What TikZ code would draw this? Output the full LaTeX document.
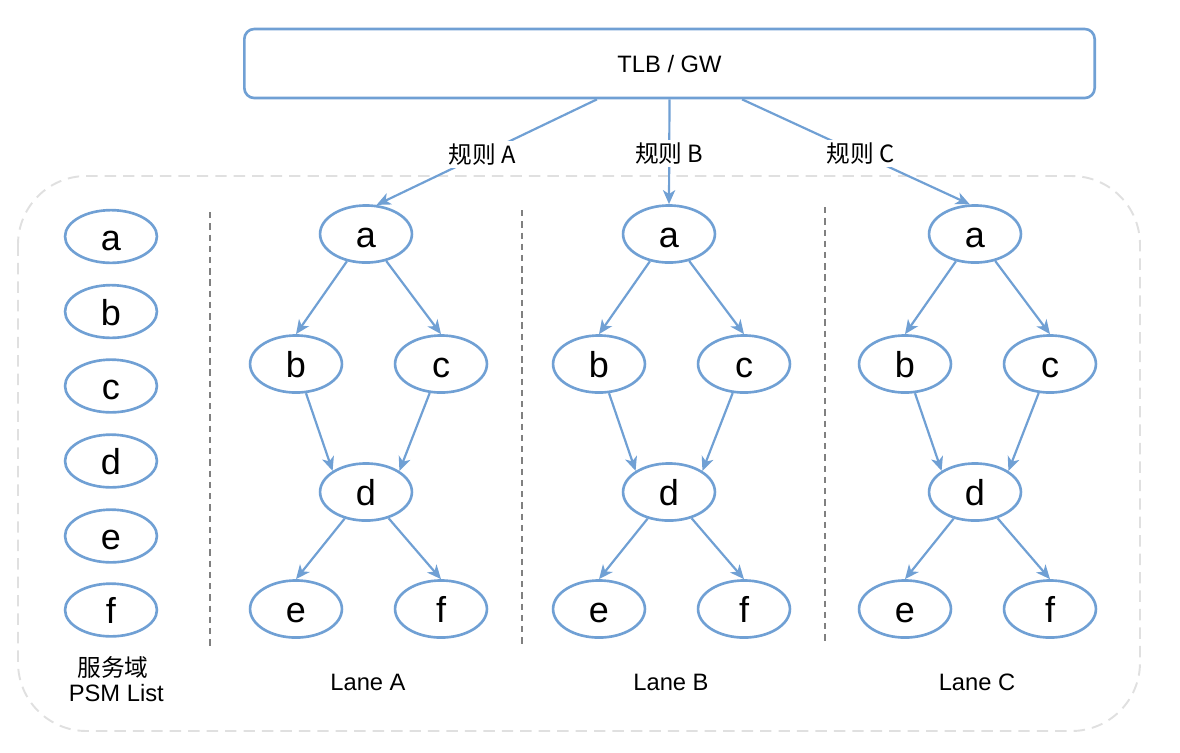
\documentclass[tikz,border=0pt]{standalone}
\usepackage{fontspec}
\setmainfont{Liberation Sans}
\newfontfamily\cjk{Noto Sans CJK SC}
\usetikzlibrary{arrows.meta,shapes.geometric}
\definecolor{eblue}{RGB}{112,160,212}
\definecolor{cgray}{RGB}{224,224,224}
\definecolor{lgray}{RGB}{128,128,128}
\tikzset{
  nodeell/.style={ellipse,draw=eblue,line width=1.5pt,inner sep=0pt,
    minimum width=52.3pt,minimum height=32.5pt,
    text height=15.4pt,text depth=0pt,
    font=\fontsize{20.5}{23}\selectfont},
  listell/.style={nodeell,minimum height=30pt},
  arr/.style={draw=eblue,line width=1.25pt,
    -{Stealth[length=8pt,width=7pt,inset=2.3pt]}},
  lbl/.style={font=\fontsize{13.5}{16}\selectfont},
  rulelbl/.style={lbl,fill=white,inner sep=1.5pt,pos=0.52},
  lanesep/.style={draw=lgray,line width=1.1pt,dash pattern=on 3.6pt off 2.8pt},
}
\begin{document}
\begin{tikzpicture}[x=0.02cm,y=-0.02cm]
\useasboundingbox (0,0) rectangle (1180,752);
% container
\draw[cgray,line width=1.1pt,dash pattern=on 6.5pt off 4pt,rounded corners=39pt]
  (18,176) rectangle (1140,731);
% top box
\node[draw=eblue,line width=1.5pt,rounded corners=5.7pt,minimum width=484pt,
  minimum height=39.3pt,inner sep=0pt,lbl,text height=10pt,text depth=0pt] (TLB) at (669.5,63.5) {TLB / GW};
\coordinate (sA) at ([xshift=-41.3pt]TLB.south);
\coordinate (sC) at ([xshift=41.3pt]TLB.south);
% left list
\foreach \n/\y in {a/236.5,b/311.5,c/386,d/461,e/536,f/610}{
  \node[listell] (L\n) at (111,\y) {\n};
}
\node[lbl,align=center] (psm) at (113,679) {\cjk{服务域}\\[-1.5pt]\ PSM List};
% separators
\draw[lanesep] (210,212) -- (210,648);
\draw[lanesep] (522,210) -- (522,645);
\draw[lanesep] (825,207) -- (825,642);
% lanes
\foreach \L/\cx in {A/366,B/669,C/975}{
  \node[nodeell] (a\L) at (\cx,234) {a};
  \node[nodeell] (b\L) at (\cx-70,364) {b};
  \node[nodeell] (c\L) at (\cx+75,364) {c};
  \node[nodeell] (d\L) at (\cx,492) {d};
  \node[nodeell] (e\L) at (\cx-70,609) {e};
  \node[nodeell] (f\L) at (\cx+75,609) {f};
  \draw[arr] (a\L) -- (b\L.north);
  \draw[arr] (a\L) -- (c\L.north);
  \draw[arr] (b\L) -- (d\L.north west);
  \draw[arr] (c\L) -- (d\L.north east);
  \draw[arr] (d\L) -- (e\L.north);
  \draw[arr] (d\L) -- (f\L.north);
  \node[lbl] (lane\L) at (\cx+2,682) {Lane \L};
}
% rules
\draw[arr] (sA) -- node[rulelbl] (rA) {\cjk{规则} A} (aA.70);
\draw[arr] (TLB.south) -- node[rulelbl] (rB) {\cjk{规则} B} (aB.north);
\draw[arr] (sC) -- node[rulelbl] (rC) {\cjk{规则} C} (aC.100);
\end{tikzpicture}
\end{document}
